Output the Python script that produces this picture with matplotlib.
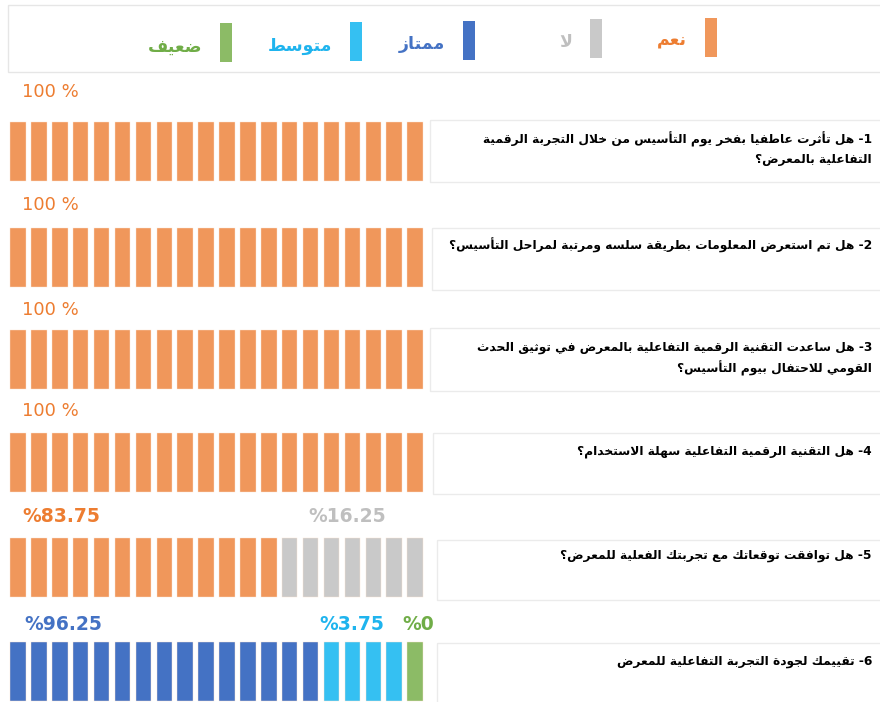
import re
import matplotlib
matplotlib.use("Agg")
import matplotlib.pyplot as plt
from matplotlib.patches import Rectangle

# ---- data ----
questions = [
    ["1- هل تأثرت عاطفيا بفخر يوم التأسيس من خلال التجربة الرقمية", "التفاعلية بالمعرض؟"],
    ["2- هل تم استعرض المعلومات بطريقة سلسه ومرتبة لمراحل التأسيس؟"],
    ["3- هل ساعدت التقنية الرقمية التفاعلية بالمعرض في توثيق الحدث", "القومي للاحتفال بيوم التأسيس؟"],
    ["4- هل التقنية الرقمية التفاعلية سهلة الاستخدام؟"],
    ["5- هل توافقت توقعاتك مع تجربتك الفعلية للمعرض؟"],
    ["6- تقييمك لجودة التجربة التفاعلية للمعرض"],
]
legend_labels = ["نعم", "لا", "ممتاز", "متوسط", "ضعيف"]

yes_pct = [100, 100, 100, 100, 83.75]
no_pct = [0, 0, 0, 0, 16.25]
yes_blocks = [20, 20, 20, 20, 13]
no_blocks = [0, 0, 0, 0, 7]

rating_pct = [96.25, 3.75, 0]
rating_blocks = [15, 4, 1]

bar_colors = ["#F0975B", "#C9C9C9", "#4472C4", "#35C0F2", "#8CBB66"]
text_colors = ["#ED7D31", "#BFBFBF", "#4472C4", "#1FB4EE", "#70AD47"]

# ---- simple arabic shaping (matplotlib has no complex text layout) ----
FOUR = {'ئ': 0xFE89, 'ب': 0xFE8F, 'ت': 0xFE95, 'ث': 0xFE99, 'ج': 0xFE9D, 'ح': 0xFEA1,
        'خ': 0xFEA5, 'س': 0xFEB1, 'ش': 0xFEB5, 'ص': 0xFEB9, 'ض': 0xFEBD, 'ط': 0xFEC1,
        'ظ': 0xFEC5, 'ع': 0xFEC9, 'غ': 0xFECD, 'ف': 0xFED1, 'ق': 0xFED5, 'ك': 0xFED9,
        'ل': 0xFEDD, 'م': 0xFEE1, 'ن': 0xFEE5, 'ه': 0xFEE9, 'ي': 0xFEF1}
TWO = {'آ': 0xFE81, 'أ': 0xFE83, 'ؤ': 0xFE85, 'إ': 0xFE87, 'ا': 0xFE8D, 'ة': 0xFE93,
       'د': 0xFEA9, 'ذ': 0xFEAB, 'ر': 0xFEAD, 'ز': 0xFEAF, 'و': 0xFEED, 'ى': 0xFEEF}
LAMALEF = {'آ': 0xFEF5, 'أ': 0xFEF7, 'إ': 0xFEF9, 'ا': 0xFEFB}


def ar(s):
    toks = []
    i = 0
    while i < len(s):
        if s[i] == 'ل' and i + 1 < len(s) and s[i + 1] in LAMALEF:
            toks.append(('LA', s[i + 1]))
            i += 2
        else:
            toks.append(s[i])
            i += 1
    out = []
    for k, t in enumerate(toks):
        prev = toks[k - 1] if k > 0 else None
        nxt = toks[k + 1] if k + 1 < len(toks) else None
        jp = isinstance(prev, str) and prev in FOUR
        if isinstance(t, tuple):
            out.append(chr(LAMALEF[t[1]] + (1 if jp else 0)))
        elif t in FOUR:
            jn = nxt is not None and (isinstance(nxt, tuple) or nxt in FOUR or nxt in TWO)
            off = 3 if (jp and jn) else 1 if jp else 2 if jn else 0
            out.append(chr(FOUR[t] + off))
        elif t in TWO:
            out.append(chr(TWO[t] + (1 if jp else 0)))
        else:
            out.append(t)
    rev = ''.join(out)[::-1]
    return re.sub(r'[0-9A-Za-z.]+', lambda m: m.group()[::-1], rev)


def pct_label(v):
    return f"{v:g} %" if v == 100 else f"%{v:g}"


# ---- figure ----
fig = plt.figure(figsize=(8.8, 7.02), dpi=100)
ax = fig.add_axes([0, 0, 1, 1])
ax.set_xlim(0, 880)
ax.set_ylim(702, 0)
ax.axis("off")

# legend box
ax.add_patch(Rectangle((8, 5), 880, 67, fill=False, ec="#E6E6E6", lw=1))
leg_bar_x = [705, 590, 463, 350, 220]
leg_bar_y = [18, 19, 21, 22, 23]
leg_txt_y = [40, 42, 44, 46, 47]
for i, lab in enumerate(legend_labels):
    ax.bar(leg_bar_x[i] + 6, 39, bottom=leg_bar_y[i], width=12, color=bar_colors[i])
    ax.text(leg_bar_x[i] - 18, leg_txt_y[i], ar(lab), ha="right", va="center",
            fontsize=12.5, fontweight="bold", color=text_colors[i], family="DejaVu Sans")

x0, pitch, bw = 18, 20.9, 15.5
bar_top = [122, 228, 330, 433, 538, 642]
bar_h = 59
label_y = [92, 205, 310, 411, 516, 625]
box = [(430, 120, 62), (432, 228, 62), (430, 328, 63), (433, 433, 61), (437, 540, 60), (437, 643, 60)]
txt_y = [[139, 160], [245], [347, 368], [452], [556], [662]]


def draw_blocks(row, start, n, color):
    xs = [x0 + (start + j) * pitch for j in range(n)]
    ax.bar(xs, bar_h, bottom=bar_top[row], width=bw, color=color, ec="#FBE3D2", lw=0.3)


for r in range(5):
    draw_blocks(r, 0, yes_blocks[r], bar_colors[0])
    draw_blocks(r, yes_blocks[r], no_blocks[r], bar_colors[1])
    bold = "bold" if yes_pct[r] != 100 else "normal"
    ax.text(22, label_y[r], pct_label(yes_pct[r]), ha="left", va="center",
            fontsize=13 if bold == "normal" else 13.5, color=text_colors[0], fontweight=bold)
    if no_blocks[r]:
        ax.text(386, label_y[r], pct_label(no_pct[r]), ha="right",
                va="center", fontsize=13.5, color=text_colors[1], fontweight="bold")

start = 0
for k, n in enumerate(rating_blocks):
    draw_blocks(5, start, n, bar_colors[2 + k])
    start += n
ax.text(24, label_y[5], pct_label(rating_pct[0]), ha="left", va="center",
        fontsize=13.5, color=text_colors[2], fontweight="bold")
ax.text(384, label_y[5], pct_label(rating_pct[1]), ha="right", va="center",
        fontsize=13.5, color=text_colors[3], fontweight="bold")
ax.text(434, label_y[5], pct_label(rating_pct[2]), ha="right", va="center",
        fontsize=13.5, color=text_colors[4], fontweight="bold")

# question boxes
for r, lines in enumerate(questions):
    bx, by, bh = box[r]
    ax.add_patch(Rectangle((bx, by), 880 - bx + 5, bh, fill=False, ec="#EBEBEB", lw=1))
    for j, line in enumerate(lines):
        ax.text(872, txt_y[r][j], ar(line), ha="right", va="center", fontsize=8.8,
                fontweight="bold", color="black", family="DejaVu Sans")

fig.savefig("out.png", dpi=100, facecolor="white")
